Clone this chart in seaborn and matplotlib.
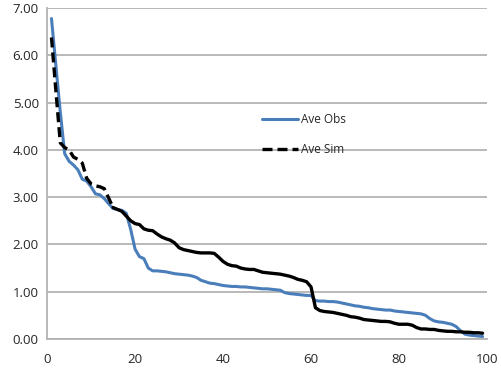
import numpy as np
import pandas as pd
import matplotlib.pyplot as plt
import seaborn as sns
from matplotlib.lines import Line2D

# values, x = 1..99
x = list(range(1, 100))
ave_obs = [6.78, 5.78, 4.80, 3.92, 3.76, 3.68, 3.58, 3.38, 3.34, 3.22,
           3.07, 3.05, 2.97, 2.86, 2.76, 2.74, 2.72, 2.66, 2.32, 1.90,
           1.74, 1.70, 1.50, 1.44, 1.44, 1.43, 1.42, 1.40, 1.38, 1.37,
           1.36, 1.35, 1.33, 1.30, 1.24, 1.21, 1.18, 1.17, 1.15, 1.13,
           1.12, 1.11, 1.11, 1.10, 1.10, 1.09, 1.08, 1.07, 1.06, 1.06,
           1.05, 1.04, 1.03, 0.98, 0.96, 0.95, 0.94, 0.93, 0.92, 0.92,
           0.81, 0.80, 0.80, 0.79, 0.79, 0.78, 0.76, 0.74, 0.72, 0.70,
           0.69, 0.67, 0.66, 0.64, 0.63, 0.62, 0.61, 0.61, 0.59, 0.58,
           0.57, 0.56, 0.55, 0.54, 0.53, 0.50, 0.43, 0.38, 0.36, 0.35,
           0.33, 0.31, 0.26, 0.17, 0.10, 0.08, 0.07, 0.06, 0.05]
ave_sim = [6.38, 5.25, 4.15, 4.05, 4.00, 3.85, 3.80, 3.72, 3.40, 3.28,
           3.24, 3.22, 3.18, 2.98, 2.78, 2.74, 2.70, 2.60, 2.50, 2.44,
           2.42, 2.33, 2.30, 2.29, 2.22, 2.16, 2.12, 2.09, 2.03, 1.93,
           1.89, 1.87, 1.85, 1.83, 1.82, 1.82, 1.82, 1.81, 1.73, 1.64,
           1.58, 1.55, 1.54, 1.50, 1.48, 1.47, 1.47, 1.44, 1.41, 1.40,
           1.39, 1.38, 1.37, 1.35, 1.33, 1.30, 1.26, 1.24, 1.21, 1.10,
           0.66, 0.60, 0.58, 0.57, 0.56, 0.54, 0.52, 0.50, 0.47, 0.46,
           0.44, 0.41, 0.40, 0.39, 0.38, 0.37, 0.37, 0.36, 0.33, 0.31,
           0.31, 0.31, 0.29, 0.24, 0.21, 0.21, 0.20, 0.20, 0.18, 0.17,
           0.16, 0.16, 0.15, 0.15, 0.14, 0.14, 0.13, 0.13, 0.12]

df = pd.DataFrame({"x": x, "obs": ave_obs, "sim": ave_sim})

sns.set_style("white")
plt.rcParams["font.family"] = ["Open Sans", "DejaVu Sans"]

fig = plt.figure(figsize=(5.01, 3.72), dpi=100)
ax = fig.add_axes([0.094, 0.089, 0.878, 0.889])

blue = "#4a7ebb"
grid = "#b3b3b3"

sns.lineplot(data=df, x="x", y="obs", ax=ax, color=blue, lw=2.2)
# steep head drawn dashed, the dense tail looks solid in the original
sns.lineplot(data=df[df.x <= 15], x="x", y="sim", ax=ax, color="black",
             lw=2.4, linestyle=(0, (3, 1.5)))
sns.lineplot(data=df[df.x >= 15], x="x", y="sim", ax=ax, color="black", lw=2.4)

ax.set_xlim(0, 100)
ax.set_ylim(0, 7)
ax.set_xticks(range(0, 101, 20))
ax.set_yticks(np.arange(0, 7.01, 1))
ax.set_yticklabels([f"{v:.2f}" for v in np.arange(0, 7.01, 1)])
ax.set_xlabel("")
ax.set_ylabel("")
ax.yaxis.grid(True, color=grid, lw=1.3)
ax.set_axisbelow(True)
for s in ["top", "right"]:
    ax.spines[s].set_visible(False)
for s in ["left", "bottom"]:
    ax.spines[s].set_color(grid)
    ax.spines[s].set_linewidth(1.3)
ax.tick_params(axis="x", length=4, color=grid, width=1.3, labelsize=9.5, pad=6)
ax.tick_params(axis="y", length=0, labelsize=9.5, pad=6)

handles = [Line2D([], [], color=blue, lw=2.2),
           Line2D([], [], color="black", lw=2.4, linestyle=(0, (3, 1.5)))]
ax.legend(handles, ["Ave Obs", "Ave Sim"], loc="center left",
          bbox_to_anchor=(0.465, 0.618), frameon=False, fontsize=8.5,
          handlelength=3.0, handletextpad=0.3, labelspacing=1.5)

fig.savefig("out.png", dpi=100)
